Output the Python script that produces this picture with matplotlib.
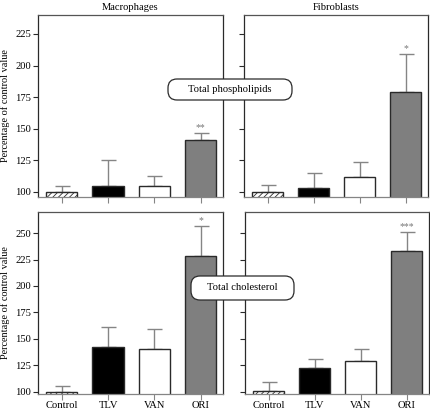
import matplotlib
matplotlib.use("Agg")
import matplotlib.pyplot as plt
from matplotlib.patches import FancyBboxPatch
from matplotlib.transforms import IdentityTransform
import numpy as np

plt.rcParams['font.family'] = ['Liberation Serif', 'DejaVu Serif']
plt.rcParams['hatch.linewidth'] = 0.6

categories = ["Control", "TLV", "VAN", "ORI"]
columns = ["Macrophages", "Fibroblasts"]
rows = ["Total phospholipids", "Total cholesterol"]

phos_mac = [100, 105, 105, 141]
phos_mac_err = [5, 20, 8, 6]
phos_fib = [100, 103, 112, 179]
phos_fib_err = [5.5, 12, 11.5, 30]
chol_mac = [100, 142, 140, 228]
chol_mac_err = [5, 19, 19, 29]
chol_fib = [101, 122, 129, 233]
chol_fib_err = [8, 9, 11, 18]

stars = [["**", "*"], ["*", "***"]]
values = [[(phos_mac, phos_mac_err), (phos_fib, phos_fib_err)],
          [(chol_mac, chol_mac_err), (chol_fib, chol_fib_err)]]

yticks_top = [100, 125, 150, 175, 200, 225]
yticks_bot = [100, 125, 150, 175, 200, 225, 250]

W, H = 430, 409
fig = plt.figure(figsize=(W / 100, H / 100), dpi=100)

boxes = [[(38, 15, 223, 197), (244, 15, 428, 197)],
         [(38, 212, 223, 394), (245, 212, 429, 394)]]

face = ["white", "black", "white", "#7f7f7f"]
hatches = ["//////", None, None, None]
edge = "#2a2a2a"
ecol = "#858585"
fs = 7.6

for r in range(2):
    for c in range(2):
        x0, y0, x1, y1 = boxes[r][c]
        ax = fig.add_axes([x0 / W, 1 - y1 / H, (x1 - x0) / W, (y1 - y0) / H])
        vals, errs = values[r][c]
        x = np.arange(len(categories))
        for i in range(len(categories)):
            ax.bar(x[i], vals[i], width=0.67, bottom=0, color=face[i],
                   edgecolor=edge, linewidth=1.0, hatch=hatches[i], zorder=2)
        ax.errorbar(x, vals, yerr=[np.zeros(4), errs], fmt="none",
                    ecolor=ecol, elinewidth=1.0, capsize=5.4, capthick=1.0, zorder=1)
        top = vals[3] + errs[3]
        ax.text(x[3], top + 0.5, stars[r][c], ha="center", va="bottom",
                fontsize=7, color="#777777")
        if r == 0:
            ax.set_ylim(96, 240)
            ax.set_yticks(yticks_top)
            ax.set_title(columns[c], fontsize=fs, pad=3.5)
        else:
            ax.set_ylim(97.8, 270)
            ax.set_yticks(yticks_bot)
        ax.set_xlim(-0.51, 3.48)
        ax.set_xticks(x)
        if r == 1:
            ax.set_xticklabels(categories, fontsize=fs)
        else:
            ax.set_xticklabels([])
        if c == 0:
            ax.tick_params(axis="y", labelsize=fs)
            ax.set_ylabel("Percentage of control value", fontsize=7.4)
            ax.yaxis.set_label_coords(-0.152, 0.5)
        else:
            ax.set_yticklabels([])
        ax.tick_params(axis="y", direction="out", length=3.6, width=0.8, color=edge, pad=1.5)
        ax.tick_params(axis="x", direction="out", length=4.2, width=0.8, color=ecol, pad=0.8)
        for name, s in ax.spines.items():
            s.set_color(edge if name in ("left", "right") else "#555555")
            s.set_linewidth(0.9)
        ax.spines["bottom"].set_color(ecol)

# label boxes (pixel coordinates: left, top, right, bottom)
label_boxes = [(168, 79, 292, 100), (191, 276, 294, 300)]
for text, (bx0, by0, bx1, by1) in zip(rows, label_boxes):
    patch = FancyBboxPatch((bx0, H - by1), bx1 - bx0, by1 - by0,
                           boxstyle="round,pad=0,rounding_size=9",
                           transform=IdentityTransform(), fc="white", ec=edge, lw=0.9,
                           zorder=5)
    fig.add_artist(patch)
    fig.text((bx0 + bx1) / 2 / W, 1 - ((by0 + by1) / 2) / H, text, ha="center",
             va="center", fontsize=fs, zorder=6)

fig.savefig("out.png", dpi=100)
